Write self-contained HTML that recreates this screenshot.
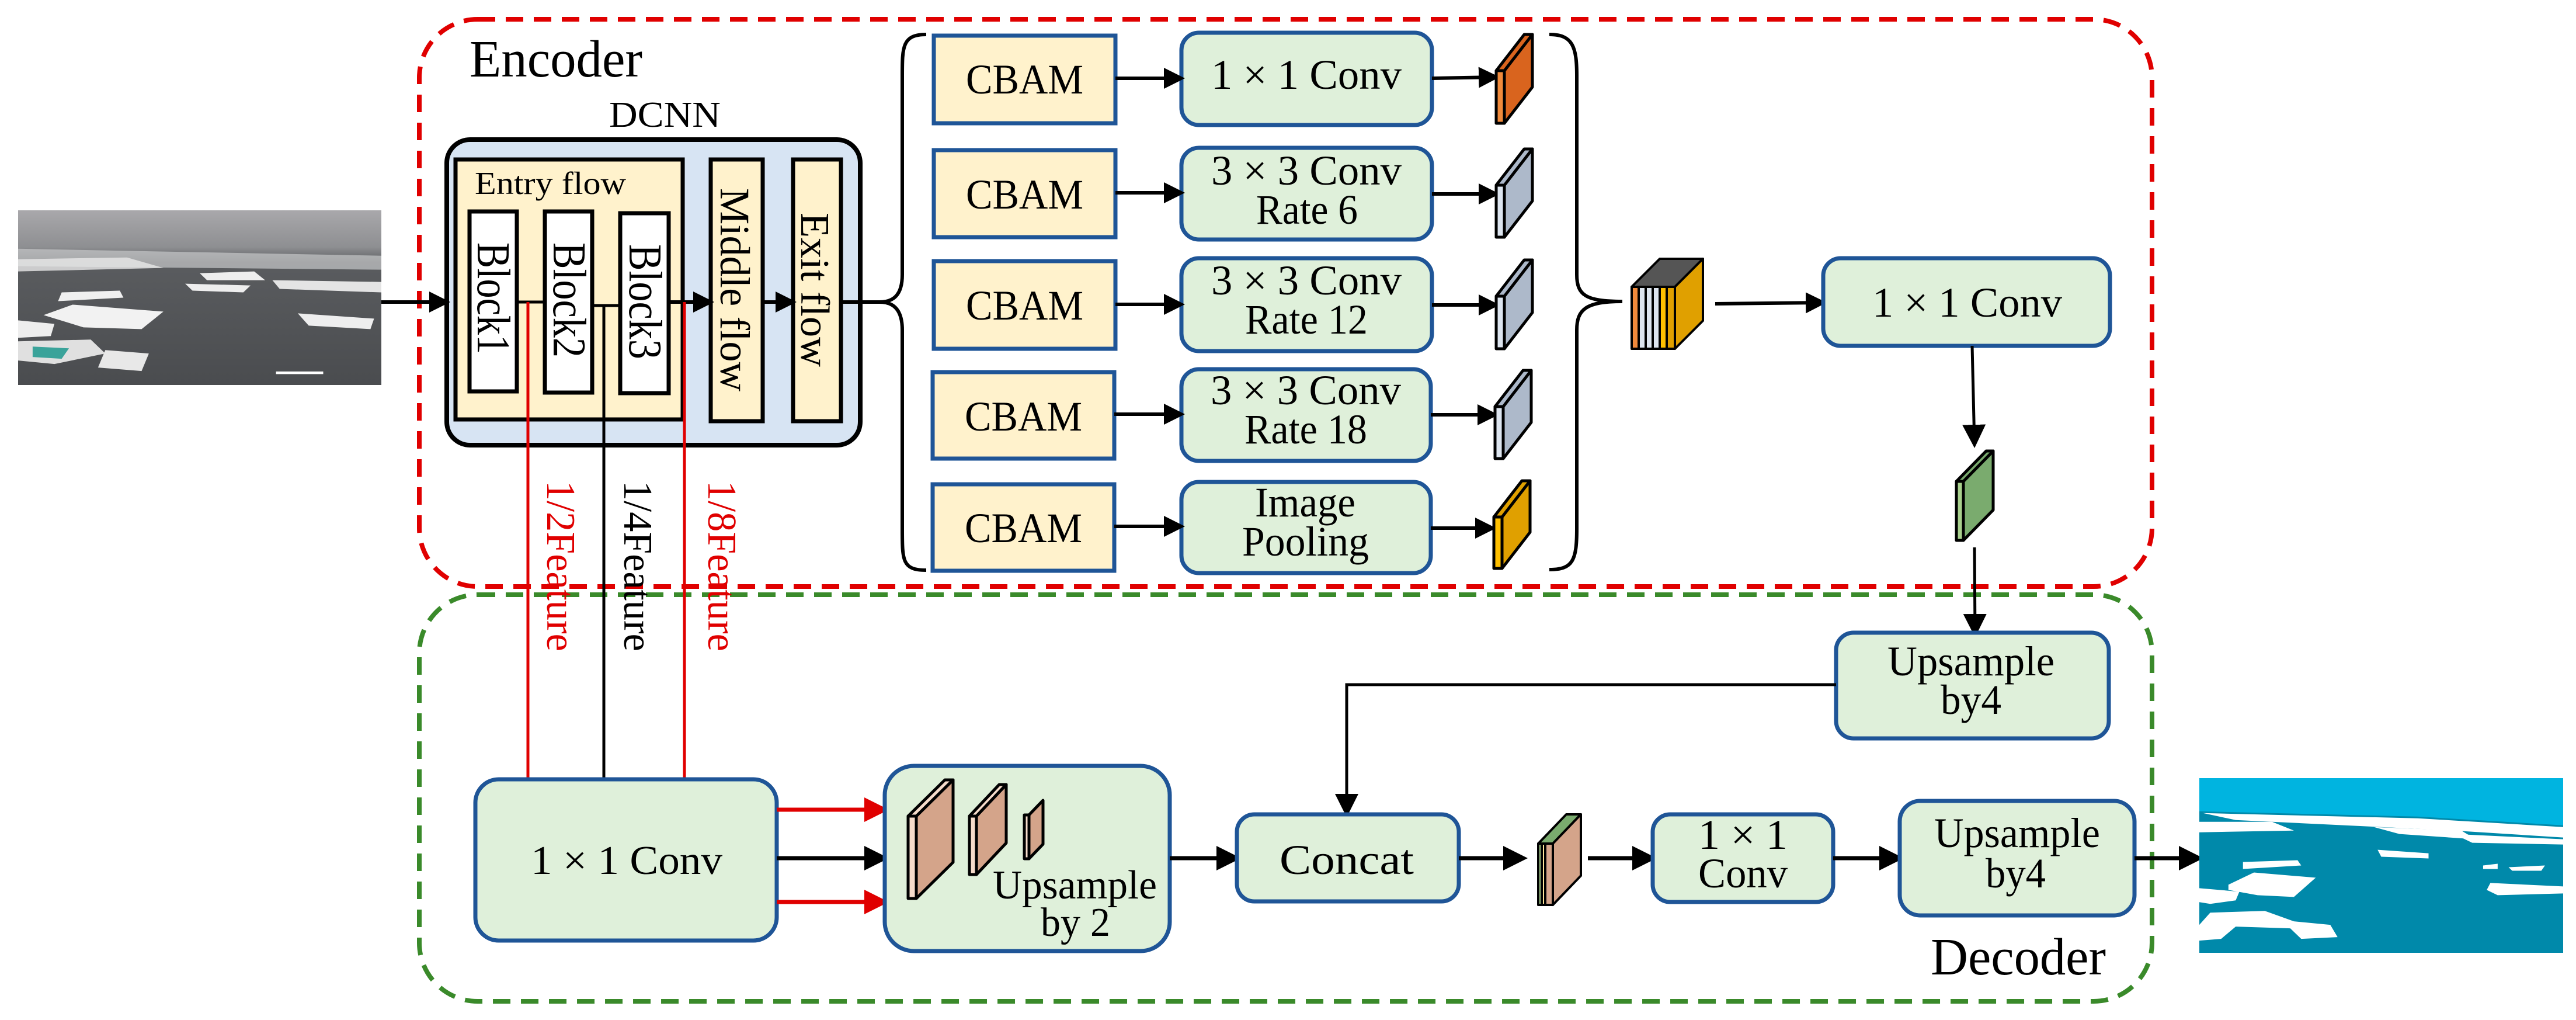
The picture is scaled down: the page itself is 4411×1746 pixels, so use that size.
<!DOCTYPE html>
<html><head><meta charset="utf-8"><style>
html,body{margin:0;padding:0;background:#fff;}
svg{display:block;}
text{font-family:"Liberation Serif","Times New Roman",Times,serif;}
</style></head><body>
<svg width="4411" height="1746" viewBox="0 0 4411 1746" xmlns="http://www.w3.org/2000/svg" font-family="'Liberation Serif', serif">
<defs>
<marker id="ah" markerWidth="6" markerHeight="6" refX="5" refY="3" orient="auto" markerUnits="strokeWidth"><path d="M0,0 L6,3 L0,6 z" fill="#000"/></marker>
<marker id="ahr" markerWidth="6" markerHeight="6" refX="5" refY="3" orient="auto" markerUnits="strokeWidth"><path d="M0,0 L6,3 L0,6 z" fill="#e00000"/></marker>
<marker id="ahs" markerWidth="8" markerHeight="8" refX="7" refY="4" orient="auto" markerUnits="strokeWidth"><path d="M0,0 L8,4 L0,8 z" fill="#000"/></marker>
</defs>

<rect x="718" y="33" width="2967" height="971" rx="100" fill="none" stroke="#e00000" stroke-width="8" stroke-dasharray="30 18"/>
<rect x="718" y="1018" width="2967" height="696" rx="100" fill="none" stroke="#3a8a2a" stroke-width="8" stroke-dasharray="30 18"/>

<svg x="31" y="360" width="622" height="299" viewBox="0 0 100 100" preserveAspectRatio="none">
<defs><linearGradient id="sky" x1="0" y1="0" x2="0" y2="1"><stop offset="0" stop-color="#a9a8ab"/><stop offset="0.21" stop-color="#8e8f92"/><stop offset="0.3" stop-color="#5a5c5f"/><stop offset="1" stop-color="#4a4c4f"/></linearGradient></defs>
<rect width="100" height="100" fill="url(#sky)"/>
<path d="M0,22 L100,26 L100,34 L0,32z" fill="#c8c9cb" opacity="0.7"/>
<path d="M0,28 L30,27 L40,33 L0,35z" fill="#e8e8e8" opacity="0.8"/>
<path d="M50,36 L65,35 L68,40 L52,40z" fill="#eee"/>
<path d="M46,42 L64,43 L62,47 L48,46z" fill="#eee"/>
<path d="M70,40 L100,41 L100,47 L72,45z" fill="#e4e4e4"/>
<path d="M12,47 L28,46 L29,50 L11,52z" fill="#f0f0f0"/>
<path d="M7,60 L15,54 L40,58 L34,68 L18,67z" fill="#f2f2f2"/>
<path d="M77,59 L98,62 L97,68 L80,66z" fill="#eee"/>
<path d="M0,63 L10,65 L9,72 L0,73z" fill="#eee"/>
<path d="M0,75 L20,74 L24,82 L10,88 L0,86z" fill="#e0e0e0"/>
<path d="M4,78 L14,79 L12,85 L4,84z" fill="#3aa39a"/>
<path d="M24,80 L36,82 L34,92 L22,90z" fill="#e8e8e8"/>
<path d="M71,93 L84,93" stroke="#fff" stroke-width="1.5"/>
</svg>

<rect x="765" y="239" width="708" height="523" rx="40" fill="#d7e4f3" stroke="#000" stroke-width="8"/>
<rect x="780" y="273" width="389" height="445" fill="#fff2cc" stroke="#000" stroke-width="7"/>
<rect x="804" y="362" width="81" height="308" fill="#fff" stroke="#000" stroke-width="7"/>
<rect x="933" y="362" width="81" height="310" fill="#fff" stroke="#000" stroke-width="7"/>
<rect x="1062" y="365" width="83" height="308" fill="#fff" stroke="#000" stroke-width="7"/>
<rect x="1217" y="273" width="89" height="448" fill="#fff2cc" stroke="#000" stroke-width="7"/>
<rect x="1358" y="273" width="82" height="448" fill="#fff2cc" stroke="#000" stroke-width="7"/>

<line x1="653" y1="517" x2="765" y2="517" stroke="#000" stroke-width="6" marker-end="url(#ah)"/>
<line x1="885" y1="517" x2="933" y2="517" stroke="#000" stroke-width="5"/>
<line x1="1014" y1="523" x2="1062" y2="523" stroke="#000" stroke-width="5"/>
<line x1="1145" y1="517" x2="1217" y2="517" stroke="#000" stroke-width="6" marker-end="url(#ah)"/>
<line x1="1306" y1="517" x2="1358" y2="517" stroke="#000" stroke-width="6" marker-end="url(#ah)"/>
<line x1="1440" y1="517" x2="1506" y2="517" stroke="#000" stroke-width="6"/>

<line x1="904" y1="517" x2="904" y2="1334" stroke="#e00000" stroke-width="5"/>
<line x1="1034" y1="523" x2="1034" y2="1334" stroke="#000" stroke-width="5"/>
<line x1="1172" y1="517" x2="1172" y2="1334" stroke="#e00000" stroke-width="5"/>

<path d="M1586,59 C1545,59 1545,80 1545,130 L1545,470 C1545,505 1530,517 1506,517 C1530,517 1545,530 1545,565 L1545,905 C1545,960 1545,976 1586,976" fill="none" stroke="#000" stroke-width="6"/>
<path d="M2653,59 C2693,59 2700,80 2700,130 L2700,470 C2700,505 2715,516 2778,516 C2715,516 2700,530 2700,565 L2700,905 C2700,960 2693,975 2653,975" fill="none" stroke="#000" stroke-width="6"/>

<g stroke="#1f5597" stroke-width="7">
<rect x="1599" y="61" width="311" height="150" fill="#fff2cc"/>
<rect x="1599" y="257" width="311" height="149" fill="#fff2cc"/>
<rect x="1599" y="447" width="311" height="150" fill="#fff2cc"/>
<rect x="1597" y="637" width="311" height="148" fill="#fff2cc"/>
<rect x="1597" y="829" width="311" height="148" fill="#fff2cc"/>
<rect x="2023" y="56" width="429" height="158" rx="30" fill="#dff0da"/>
<rect x="2023" y="253" width="429" height="157" rx="30" fill="#dff0da"/>
<rect x="2023" y="442" width="429" height="159" rx="30" fill="#dff0da"/>
<rect x="2023" y="632" width="427" height="157" rx="30" fill="#dff0da"/>
<rect x="2023" y="825" width="427" height="156" rx="30" fill="#dff0da"/>
</g>
<g stroke="#000" stroke-width="6" marker-end="url(#ah)">
<line x1="1910" y1="134" x2="2023" y2="134"/>
<line x1="1910" y1="330" x2="2023" y2="330"/>
<line x1="1910" y1="521" x2="2023" y2="521"/>
<line x1="1908" y1="709" x2="2023" y2="709"/>
<line x1="1908" y1="901" x2="2023" y2="901"/>
<line x1="2452" y1="134" x2="2562" y2="132"/>
<line x1="2452" y1="332" x2="2562" y2="332"/>
<line x1="2452" y1="522" x2="2562" y2="522"/>
<line x1="2450" y1="710" x2="2560" y2="710"/>
<line x1="2450" y1="904" x2="2556" y2="904"/>
</g>

<g stroke="#000" stroke-width="5" stroke-linejoin="round">
<g fill="#d9641e"><rect x="2562" y="121" width="14" height="90" fill="#f08a3c"/><polygon points="2576,121 2624,59 2624,149 2576,211"/><polygon points="2562,121 2610,59 2624,59 2576,121"/></g>
<g fill="#adb9ca"><rect x="2562" y="317" width="14" height="89" fill="#dde5ef"/><polygon points="2576,317 2624,255 2624,344 2576,406"/><polygon points="2562,317 2610,255 2624,255 2576,317"/></g>
<g fill="#adb9ca"><rect x="2562" y="507" width="14" height="90" fill="#dde5ef"/><polygon points="2576,507 2624,445 2624,535 2576,597"/><polygon points="2562,507 2610,445 2624,445 2576,507"/></g>
<g fill="#adb9ca"><rect x="2560" y="696" width="14" height="89" fill="#dde5ef"/><polygon points="2574,696 2622,634 2622,723 2574,785"/><polygon points="2560,696 2608,634 2622,634 2574,696"/></g>
<g fill="#e0a000"><rect x="2558" y="885" width="14" height="88" fill="#ffc000"/><polygon points="2572,885 2620,823 2620,911 2572,973"/><polygon points="2558,885 2606,823 2620,823 2572,885"/></g>
</g>

<g stroke="#000" stroke-width="4" stroke-linejoin="round">
<polygon points="2794,491 2842,443 2916,443 2868,491" fill="#555"/>
<rect x="2794" y="491" width="12" height="106" fill="#f08a3c"/>
<rect x="2806" y="491" width="12" height="106" fill="#dde5ef"/>
<rect x="2818" y="491" width="12" height="106" fill="#dde5ef"/>
<rect x="2830" y="491" width="12" height="106" fill="#dde5ef"/>
<rect x="2842" y="491" width="12" height="106" fill="#ffc000"/>
<rect x="2854" y="491" width="14" height="106" fill="#e0a000"/>
<polygon points="2868,491 2916,443 2916,549 2868,597" fill="#e0a000"/>
</g>
<line x1="2937" y1="520" x2="3122" y2="518" stroke="#000" stroke-width="6" marker-end="url(#ah)"/>
<rect x="3122" y="442" width="491" height="150" rx="30" fill="#dff0da" stroke="#1f5597" stroke-width="7"/>
<line x1="3377" y1="592" x2="3381" y2="762" stroke="#000" stroke-width="5" marker-end="url(#ahs)"/>
<g stroke="#000" stroke-width="5" stroke-linejoin="round">
<rect x="3350" y="824" width="12" height="101" fill="#a9d18e"/>
<polygon points="3362,824 3413,772 3413,873 3362,925" fill="#7aab6e"/>
<polygon points="3350,824 3401,772 3413,772 3362,824" fill="#7aab6e"/>
</g>
<line x1="3381" y1="937" x2="3382" y2="1086" stroke="#000" stroke-width="5" marker-end="url(#ahs)"/>

<rect x="3144" y="1083" width="467" height="181" rx="30" fill="#dff0da" stroke="#1f5597" stroke-width="7"/>
<polyline points="3144,1172 2306,1172 2306,1394" fill="none" stroke="#000" stroke-width="5" marker-end="url(#ahs)"/>

<rect x="814" y="1334" width="516" height="276" rx="40" fill="#dff0da" stroke="#1f5597" stroke-width="7"/>
<line x1="1330" y1="1386" x2="1515" y2="1386" stroke="#e00000" stroke-width="7" marker-end="url(#ahr)"/>
<line x1="1330" y1="1469" x2="1515" y2="1469" stroke="#000" stroke-width="7" marker-end="url(#ah)"/>
<line x1="1330" y1="1544" x2="1515" y2="1544" stroke="#e00000" stroke-width="7" marker-end="url(#ahr)"/>

<rect x="1515" y="1311" width="488" height="317" rx="50" fill="#dff0da" stroke="#1f5597" stroke-width="7"/>
<g stroke="#000" stroke-width="5" stroke-linejoin="round">
<rect x="1555" y="1397" width="14" height="141" fill="#f6dccb"/>
<polygon points="1569,1397 1632,1335 1632,1476 1569,1538" fill="#d4a48a"/>
<polygon points="1555,1397 1618,1335 1632,1335 1569,1397" fill="#f6dccb"/>
<rect x="1660" y="1397" width="12" height="100" fill="#f6dccb"/>
<polygon points="1672,1397 1723,1343 1723,1443 1672,1497" fill="#d4a48a"/>
<polygon points="1660,1397 1711,1343 1723,1343 1672,1397" fill="#f6dccb"/>
<rect x="1754" y="1395" width="8" height="75" fill="#f6dccb"/>
<polygon points="1762,1395 1786,1370 1786,1445 1762,1470" fill="#d4a48a"/>
</g>
<line x1="2003" y1="1469" x2="2118" y2="1469" stroke="#000" stroke-width="7" marker-end="url(#ah)"/>

<rect x="2118" y="1394" width="380" height="149" rx="30" fill="#dff0da" stroke="#1f5597" stroke-width="7"/>
<line x1="2498" y1="1469" x2="2609" y2="1469" stroke="#000" stroke-width="7" marker-end="url(#ah)"/>
<g stroke="#000" stroke-width="4" stroke-linejoin="round">
<polygon points="2634,1444 2682,1394 2707,1394 2659,1444" fill="#7aab6e"/>
<rect x="2634" y="1444" width="6" height="105" fill="#a9d18e"/>
<rect x="2640" y="1444" width="6" height="105" fill="#ffe699"/>
<rect x="2646" y="1444" width="13" height="105" fill="#d4a48a"/>
<polygon points="2659,1444 2707,1394 2707,1499 2659,1549" fill="#d4a48a"/>
</g>
<line x1="2719" y1="1469" x2="2830" y2="1469" stroke="#000" stroke-width="7" marker-end="url(#ah)"/>
<rect x="2830" y="1394" width="309" height="150" rx="30" fill="#dff0da" stroke="#1f5597" stroke-width="7"/>
<line x1="3139" y1="1469" x2="3253" y2="1469" stroke="#000" stroke-width="7" marker-end="url(#ah)"/>
<rect x="3253" y="1371" width="402" height="196" rx="35" fill="#dff0da" stroke="#1f5597" stroke-width="7"/>
<line x1="3655" y1="1469" x2="3766" y2="1469" stroke="#000" stroke-width="7" marker-end="url(#ah)"/>

<svg x="3766" y="1332" width="623" height="299" viewBox="0 0 100 100" preserveAspectRatio="none">
<rect width="100" height="100" fill="#0089aa"/>
<polygon points="0,0 100,0 100,27 60,22 0,19" fill="#00b4e0"/>
<path d="M1,20 L60,23 L100,28 L100,34 L70,30 L40,27 L10,24z" fill="#fff"/>
<path d="M0,25 L20,25 L26,30 L0,31z" fill="#fff"/>
<path d="M48,28 L72,30 L76,35 L55,32z" fill="#fff"/>
<path d="M70,32 L100,35 L100,38 L75,37z" fill="#fff"/>
<path d="M49,41 L63,43 L63,46 L50,45z" fill="#fff"/>
<path d="M12,48 L27,47 L28,50 L12,52z" fill="#fff"/>
<path d="M8,61 L15,54 L32,57 L26,68 L16,67 L8,64z" fill="#fff"/>
<path d="M80,60 L100,62 L100,66 L82,67 L79,64z" fill="#fff"/>
<path d="M0,63 L11,65 L10,70 L3,72 L0,71z" fill="#fff"/>
<path d="M3,77 L18,76 L26,82 L36,84 L38,91 L28,92 L25,86 L10,85 L6,92 L0,93 L0,84z" fill="#fff"/>
<path d="M85,51 L95,50 L94,53 L86,53z" fill="#fff"/>
<path d="M78,50 L82,49 L82,52 L78,52z" fill="#fff"/>
</svg>

<!-- all text -->
<g style="font-family:'Liberation Serif',serif" font-family="Liberation Serif">
<text x="804" y="131" font-size="90" textLength="296" lengthAdjust="spacingAndGlyphs">Encoder</text>
<text x="3306" y="1668" font-size="90" textLength="300" lengthAdjust="spacingAndGlyphs">Decoder</text>
<text x="1043" y="217" font-size="62" textLength="191" lengthAdjust="spacingAndGlyphs">DCNN</text>
<text x="813" y="332" font-size="55" textLength="259" lengthAdjust="spacingAndGlyphs">Entry flow</text>
<text transform="translate(818,415) rotate(90)" font-size="80" textLength="191" lengthAdjust="spacingAndGlyphs">Block1</text>
<text transform="translate(948,415) rotate(90)" font-size="80" textLength="197" lengthAdjust="spacingAndGlyphs">Block2</text>
<text transform="translate(1078,418) rotate(90)" font-size="80" textLength="197" lengthAdjust="spacingAndGlyphs">Block3</text>
<text transform="translate(1234,322) rotate(90)" font-size="72" textLength="348" lengthAdjust="spacingAndGlyphs">Middle flow</text>
<text transform="translate(1372,364) rotate(90)" font-size="70" textLength="264" lengthAdjust="spacingAndGlyphs">Exit flow</text>
<text transform="translate(937,823) rotate(90)" font-size="70" fill="#e00000" textLength="292" lengthAdjust="spacingAndGlyphs">1/2Feature</text>
<text transform="translate(1069,823) rotate(90)" font-size="70" textLength="292" lengthAdjust="spacingAndGlyphs">1/4Feature</text>
<text transform="translate(1213,823) rotate(90)" font-size="70" fill="#e00000" textLength="292" lengthAdjust="spacingAndGlyphs">1/8Feature</text>
<text x="1654" y="160" font-size="72" textLength="201" lengthAdjust="spacingAndGlyphs">CBAM</text>
<text x="1654" y="357" font-size="72" textLength="201" lengthAdjust="spacingAndGlyphs">CBAM</text>
<text x="1654" y="547" font-size="72" textLength="201" lengthAdjust="spacingAndGlyphs">CBAM</text>
<text x="1652" y="737" font-size="72" textLength="201" lengthAdjust="spacingAndGlyphs">CBAM</text>
<text x="1652" y="928" font-size="72" textLength="201" lengthAdjust="spacingAndGlyphs">CBAM</text>
<text x="2074" y="152" font-size="72" textLength="326" lengthAdjust="spacingAndGlyphs">1 × 1 Conv</text>
<text x="2074" y="316" font-size="72" textLength="326" lengthAdjust="spacingAndGlyphs">3 × 3 Conv</text>
<text x="2151" y="383" font-size="72" textLength="174" lengthAdjust="spacingAndGlyphs">Rate 6</text>
<text x="2074" y="504" font-size="72" textLength="326" lengthAdjust="spacingAndGlyphs">3 × 3 Conv</text>
<text x="2132" y="571" font-size="72" textLength="210" lengthAdjust="spacingAndGlyphs">Rate 12</text>
<text x="2073" y="692" font-size="72" textLength="326" lengthAdjust="spacingAndGlyphs">3 × 3 Conv</text>
<text x="2131" y="759" font-size="72" textLength="210" lengthAdjust="spacingAndGlyphs">Rate 18</text>
<text x="2149" y="884" font-size="72" textLength="172" lengthAdjust="spacingAndGlyphs">Image</text>
<text x="2127" y="951" font-size="72" textLength="217" lengthAdjust="spacingAndGlyphs">Pooling</text>
<text x="3206" y="542" font-size="72" textLength="325" lengthAdjust="spacingAndGlyphs">1 × 1 Conv</text>
<text x="3232" y="1156" font-size="72" textLength="286" lengthAdjust="spacingAndGlyphs">Upsample</text>
<text x="3323" y="1222" font-size="72" textLength="104" lengthAdjust="spacingAndGlyphs">by4</text>
<text x="909" y="1496" font-size="70" textLength="328" lengthAdjust="spacingAndGlyphs">1 × 1 Conv</text>
<text x="1700" y="1538" font-size="70" textLength="281" lengthAdjust="spacingAndGlyphs">Upsample</text>
<text x="1782" y="1602" font-size="70" textLength="119" lengthAdjust="spacingAndGlyphs">by 2</text>
<text x="2191" y="1496" font-size="72" textLength="230" lengthAdjust="spacingAndGlyphs">Concat</text>
<text x="2908" y="1453" font-size="72" textLength="153" lengthAdjust="spacingAndGlyphs">1 × 1</text>
<text x="2908" y="1519" font-size="72" textLength="153" lengthAdjust="spacingAndGlyphs">Conv</text>
<text x="3312" y="1450" font-size="72" textLength="284" lengthAdjust="spacingAndGlyphs">Upsample</text>
<text x="3400" y="1519" font-size="72" textLength="103" lengthAdjust="spacingAndGlyphs">by4</text>
</g>
</svg>
</body></html>
